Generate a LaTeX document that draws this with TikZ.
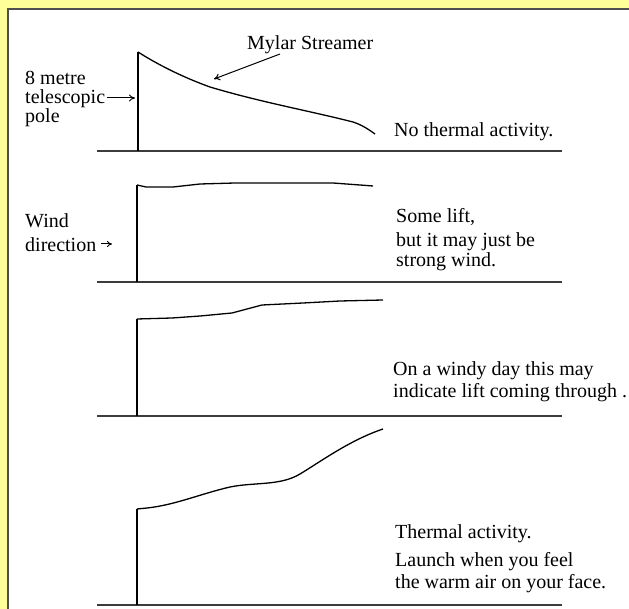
\documentclass[tikz,border=0pt]{standalone}
\usepackage{fontspec}
\setmainfont{Liberation Serif}
\usetikzlibrary{arrows.meta}
\definecolor{bgyellow}{RGB}{255,255,153}
\definecolor{framegray}{RGB}{80,80,80}
\definecolor{groundgray}{RGB}{60,60,60}
\begin{document}
\begin{tikzpicture}[x=1pt,y=-1pt,
  lbl/.style={anchor=base west,inner sep=0pt,font=\fontsize{20}{22}\selectfont},
  ground/.style={draw=groundgray,line width=2pt},
  pole/.style={draw=black,line width=1.8pt},
  streamer/.style={draw=black,line width=1.3pt,line join=round},
  pointer/.style={draw=black,line width=1pt,-{To[length=6pt,width=7pt]}}]
\useasboundingbox (0,0) rectangle (629,609);
\fill[bgyellow] (0,0) rectangle (629,609);
\fill[white] (8,9) rectangle (629,609);
\draw[framegray,line width=1.5pt] (8,609) -- (8,9) -- (629,9);

% Panel 1
\coordinate (g1a) at (97,151); \coordinate (g1b) at (562,151);
\coordinate (p1b) at (138,151); \coordinate (p1t) at (138,52);
\draw[ground] (g1a) -- (g1b);
\draw[pole] (p1b) -- (p1t);
\draw[streamer] (p1t) .. controls (160,66) and (185,78) .. (210,87)
  .. controls (260,102) and (310,111) .. (353,122)
  .. controls (362,125) and (368,129) .. (375,134);
\node[lbl] (mylar) at (247,50) {Mylar Streamer};
\coordinate (ma) at (280,54); \coordinate (mb) at (214,79);
\draw[pointer] (ma) -- (mb);
\node[lbl] (pole1) at (25,85) {8 metre};
\node[lbl] (pole2) at (25,104) {telescopic};
\node[lbl] (pole3) at (25,123) {pole};
\coordinate (pa) at (135,98);
\draw[pointer] (pole2.east |- 0,98) ++(2,0) -- (pa);
\node[lbl] (t1) at (394,137) {No thermal activity.};

% Panel 2
\coordinate (g2a) at (97,282); \coordinate (g2b) at (562,282);
\coordinate (p2b) at (137,282); \coordinate (p2t) at (137,185);
\draw[ground] (g2a) -- (g2b);
\draw[pole] (p2b) -- (p2t);
\draw[streamer] (p2t) -- (146,187) -- (173,187) -- (200,184) -- (235,183) -- (333,183) -- (360,185) -- (373,186);
\node[lbl] (wind1) at (25,228) {Wind};
\node[lbl] (wind2) at (25,252) {direction};
\coordinate (wa) at (112,244);
\draw[draw=black,line width=1pt,-{To[length=5pt,width=6pt]}] (wind2.east |- 0,244) ++(5,0) -- (wa);
\node[lbl] (t2a) at (396,223) {Some lift,};
\node[lbl] (t2b) at (396,247) {but it may just be};
\node[lbl] (t2c) at (396,267) {strong wind.};

% Panel 3
\coordinate (g3a) at (97,416); \coordinate (g3b) at (562,416);
\coordinate (p3b) at (137,416); \coordinate (p3t) at (137,319);
\draw[ground] (g3a) -- (g3b);
\draw[pole] (p3b) -- (p3t);
\draw[streamer] (p3t) -- (172,318) -- (200,316) -- (232,313) -- (262,305) -- (303,303) -- (340,301) -- (383,300);
\node[lbl] (t3a) at (393,375) {On a windy day this may};
\node[lbl] (t3b) at (393,398) {indicate lift coming through .};

% Panel 4
\coordinate (g4a) at (97,605); \coordinate (g4b) at (562,605);
\coordinate (p4b) at (137,605); \coordinate (p4t) at (137,509);
\draw[ground] (g4a) -- (g4b);
\draw[pole] (p4b) -- (p4t);
\draw[streamer] (p4t) -- (147,508) .. controls (175,505) and (200,494) .. (230,487)
  .. controls (255,482) and (280,486) .. (300,474)
  .. controls (320,462) and (350,440) .. (383,429);
\node[lbl] (t4a) at (395,538) {Thermal activity.};
\node[lbl] (t4b) at (395,566) {Launch when you feel};
\node[lbl] (t4c) at (395,588) {the warm air on your face.};
\end{tikzpicture}
\end{document}
